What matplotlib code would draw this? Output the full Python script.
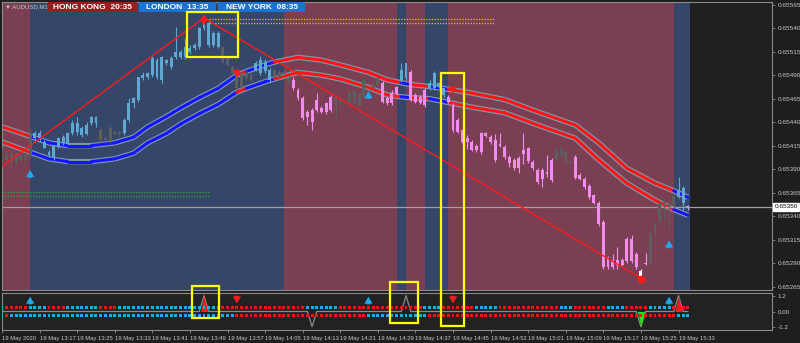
import numpy as np
import matplotlib.pyplot as plt
from matplotlib.patches import Rectangle
from matplotlib.collections import LineCollection
from matplotlib.transforms import blended_transform_factory

plt.rcParams['font.family'] = ['Liberation Sans', 'DejaVu Sans']

# AUDUSD M1 candles, prices in points (1e-5)
opens = [65408, 65400, 65405, 65398, 65405, 65400, 65405, 65423, 65428, 65419,
         65408, 65403, 65414, 65418, 65418, 65428, 65430, 65426, 65427, 65439,
         65446, 65432, 65421, 65421, 65430, 65427, 65428, 65442, 65460, 65464,
         65487, 65488, 65490, 65488, 65485, 65503, 65499, 65509, 65509, 65509,
         65515, 65519, 65520, 65540, 65546, 65535, 65535, 65520, 65508, 65499,
         65496, 65492, 65492, 65490, 65496, 65492, 65494, 65485, 65496, 65493,
         65493, 65487, 65485, 65474, 65466, 65451, 65453, 65464, 65455, 65460,
         65467, 65458, 65460, 65461, 65460, 65460, 65471, 65467, 65472, 65480,
         65480, 65482, 65466, 65471, 65477, 65485, 65487, 65493, 65469, 65467,
         65474, 65476, 65476, 65477, 65469, 65467, 65458, 65442, 65432, 65423,
         65419, 65415, 65428, 65428, 65424, 65421, 65417, 65414, 65403, 65400,
         65402, 65410, 65412, 65398, 65389, 65389, 65387, 65400, 65400, 65410,
         65408, 65398, 65403, 65384, 65380, 65372, 65362, 65354, 65334, 65296,
         65293, 65293, 65293, 65316, 65316, 65300, 65282, 65290, 65290, 65320,
         65335, 65352, 65350, 65353, 65360, 65354, 65351]
highs = [65413, 65410, 65410, 65408, 65409, 65408, 65434, 65431, 65432, 65421,
         65410, 65416, 65424, 65426, 65430, 65442, 65446, 65436, 65440, 65447,
         65447, 65434, 65426, 65436, 65432, 65431, 65444, 65466, 65467, 65488,
         65493, 65493, 65510, 65508, 65510, 65507, 65510, 65541, 65517, 65530,
         65522, 65524, 65541, 65552, 65549, 65537, 65537, 65521, 65510, 65501,
         65498, 65494, 65495, 65492, 65505, 65510, 65507, 65498, 65498, 65495,
         65495, 65489, 65488, 65476, 65468, 65453, 65455, 65471, 65457, 65462,
         65469, 65467, 65466, 65464, 65472, 65474, 65472, 65485, 65474, 65482,
         65487, 65484, 65468, 65474, 65479, 65503, 65503, 65495, 65471, 65469,
         65476, 65485, 65494, 65483, 65477, 65469, 65460, 65444, 65433, 65426,
         65421, 65417, 65430, 65430, 65426, 65427, 65428, 65416, 65405, 65402,
         65404, 65428, 65414, 65400, 65391, 65391, 65405, 65402, 65412, 65415,
         65410, 65400, 65405, 65386, 65382, 65374, 65364, 65356, 65336, 65298,
         65300, 65307, 65295, 65318, 65320, 65302, 65284, 65301, 65323, 65334,
         65356, 65359, 65356, 65362, 65382, 65372, 65352]
lows = [65394, 65398, 65392, 65397, 65398, 65398, 65402, 65419, 65419, 65412,
        65403, 65400, 65412, 65416, 65416, 65426, 65426, 65424, 65426, 65437,
        65435, 65418, 65418, 65418, 65426, 65425, 65426, 65440, 65455, 65462,
        65485, 65486, 65488, 65486, 65482, 65501, 65497, 65507, 65507, 65507,
        65513, 65517, 65518, 65538, 65520, 65520, 65519, 65503, 65500, 65490,
        65474, 65476, 65485, 65483, 65494, 65490, 65492, 65483, 65487, 65486,
        65490, 65480, 65474, 65464, 65442, 65437, 65432, 65451, 65450, 65449,
        65451, 65442, 65458, 65460, 65458, 65458, 65456, 65465, 65468, 65474,
        65478, 65460, 65458, 65458, 65469, 65483, 65485, 65463, 65460, 65459,
        65456, 65474, 65474, 65476, 65467, 65460, 65430, 65428, 65418, 65411,
        65409, 65408, 65406, 65424, 65417, 65398, 65414, 65401, 65392, 65389,
        65386, 65396, 65397, 65389, 65374, 65371, 65382, 65376, 65398, 65404,
        65396, 65395, 65380, 65378, 65369, 65358, 65353, 65330, 65284, 65284,
        65284, 65284, 65287, 65290, 65290, 65284, 65274, 65288, 65288, 65318,
        65333, 65337, 65327, 65349, 65359, 65347, 65347]
closes = [65400, 65405, 65398, 65405, 65400, 65405, 65426, 65428, 65423, 65413,
          65405, 65416, 65423, 65424, 65428, 65439, 65439, 65434, 65437, 65446,
          65439, 65421, 65423, 65434, 65427, 65430, 65442, 65460, 65466, 65488,
          65490, 65492, 65508, 65506, 65509, 65506, 65508, 65515, 65515, 65520,
          65519, 65522, 65540, 65547, 65522, 65522, 65520, 65504, 65501, 65492,
          65476, 65477, 65487, 65485, 65503, 65506, 65504, 65496, 65488, 65488,
          65491, 65482, 65476, 65466, 65444, 65446, 65440, 65453, 65451, 65451,
          65453, 65467, 65464, 65462, 65472, 65474, 65458, 65485, 65469, 65476,
          65487, 65461, 65460, 65460, 65470, 65496, 65503, 65464, 65461, 65460,
          65458, 65482, 65492, 65482, 65476, 65461, 65432, 65430, 65419, 65419,
          65410, 65410, 65408, 65425, 65419, 65400, 65415, 65403, 65397, 65391,
          65391, 65406, 65399, 65391, 65376, 65380, 65385, 65378, 65410, 65405,
          65398, 65396, 65381, 65380, 65371, 65360, 65354, 65332, 65286, 65286,
          65286, 65288, 65288, 65292, 65292, 65286, 65276, 65289, 65322, 65333,
          65354, 65355, 65353, 65361, 65368, 65370, 65350]
# candle colour per bar: b blue, p pink, g grey, w white, v lavender
candle_cols = ("ggggggg" "bbbbbbbbbbbbbb" "ggggg" "bbbbbbbbbbbbbbbbbbbbb"
               "ggggggg" "bbbb" "gggg" "ppppppppp" "gggggggggg" "pppp" "bb"
               "pppp" "bbbb" "ppppppppppppppppppppppp" "gggg" "pppppppppppppp"
               "w" "p" "gggggg" "bb" "v")

# envelope bands (points), read at these bars
band_bars = [0, 6, 10, 14, 19, 24, 28, 31, 35, 38, 42, 46, 50, 52, 56, 58, 63,
             68, 72, 78, 82, 85, 87, 91, 95, 100, 107, 114, 122, 127, 133, 139,
             143, 146]
band_upper = [65435, 65425, 65418, 65415, 65415, 65418, 65424, 65435, 65446,
              65455, 65466, 65476, 65490, 65494, 65501, 65504, 65509, 65506,
              65501, 65493, 65485, 65482, 65480, 65478, 65475, 65471, 65464,
              65451, 65437, 65418, 65391, 65375, 65367, 65360]
band_lower = [65419, 65408, 65401, 65398, 65398, 65401, 65407, 65418, 65428,
              65438, 65449, 65459, 65472, 65476, 65483, 65486, 65493, 65490,
              65486, 65477, 65469, 65467, 65466, 65465, 65461, 65456, 65450,
              65437, 65423, 65400, 65375, 65357, 65347, 65341]
band_blue = [(6, 50), (52, 58), (85, 87), (91, 95), (143, 146)]

trend_bars = [0, 43, 136]
trend_prices = [65393, 65551, 65274]

session_edges = [-0.5, 6, 60, 84, 86, 90, 95, 143, 146.5]
session_cols = ['#7a3f53', '#354669', '#7a3f53', '#354669', '#7a3f53',
                '#354669', '#7a3f53', '#354669']

gold_levels = [65550, 65546]
gold_span = (44, 105)
green_levels = [65366, 65361]
green_span = (0, 44)
cur_price = 65350

arrow_bars = [6, 43, 50, 78, 96, 142]
arrow_tips = [65389, 65543, 65488, 65473, 65470, 65314]
arrow_dirs = ['up', 'down', 'down', 'up', 'down', 'up']

# sub window
upper_row = ("c" "rrrrr" "cccc" "rrrr" "ccccccc" "rrrr"
             "cccccccccccccccccccccc" "rrrrrrrrrrrrrrrrrr" "ccccccc"
             "rrrrrrrrrrrrrrrrrr" "cccc" "rrrrrrr" "ccccc" "rrrrrrrrrrrrr"
             "ccc" "rrrrrrr" "cccc" "rrrrr" "ccccc" "rrrr")
lower_row = ("c" "r" "cccccccccccccccccccccccccccccccccccccccccccccccc"
             "rrrrrrrrrrrrrrrrrrrrrrrrrrrr" "ccccccccccccc"
             "rrrrrrrrrrrrrrrrrrrrrrrrrrrrrrrrrrrrrrrrrrrrrrrrrrrrr" "ccc")
spike_bars = [43, 66, 86, 136, 144]
spike_vals = [1.2, -1.15, 1.2, -1.15, 1.2]
spike_fill = ['#ff1a1a', None, None, '#19e619', '#ff1a1a']
sub_arrow_bars = [6, 50, 78, 96, 142]
sub_arrow_dirs = ['up', 'down', 'up', 'down', 'up']

label_bars = [0, 8, 16, 24, 32, 40, 48, 56, 64, 72, 80, 88, 96, 104, 112, 120,
              128, 136, 144]
time_labels = ['19 May 2020', '19 May 13:17', '19 May 13:25', '19 May 13:33',
               '19 May 13:41', '19 May 13:49', '19 May 13:57', '19 May 14:05',
               '19 May 14:13', '19 May 14:21', '19 May 14:29', '19 May 14:37',
               '19 May 14:45', '19 May 14:52', '19 May 15:01', '19 May 15:09',
               '19 May 15:17', '19 May 15:25', '19 May 15:33']
price_ticks = [65265, 65290, 65315, 65340, 65365, 65390, 65415, 65440, 65465,
               65490, 65515, 65540, 65565]

W, H = 800, 343
fig = plt.figure(figsize=(W / 100, H / 100), dpi=100, facecolor='#1e1e1e')
ax = fig.add_axes([2 / W, 1 - 290 / H, 770 / W, 288 / H], facecolor='#202020')
axs = fig.add_axes([2 / W, 1 - 330 / H, 770 / W, 37 / H], facecolor='#222222')
xlim = (0.0, 163.9)

# sessions
for i in range(len(session_cols)):
    ax.axvspan(session_edges[i], session_edges[i + 1], color=session_cols[i], lw=0, zorder=0)

# bands
cmap_band = lambda a, b: '#1414ff' if any(s <= a and b <= e for s, e in band_blue) else '#ff1414'
for vals in (band_upper, band_lower):
    y = np.array(vals) / 1e5
    ax.plot(band_bars, y, color='#7d98ae', lw=3.9, zorder=2, solid_capstyle='butt')
    segs = [[(band_bars[k], y[k]), (band_bars[k + 1], y[k + 1])] for k in range(len(band_bars) - 1)]
    cols = [cmap_band(band_bars[k], band_bars[k + 1]) for k in range(len(band_bars) - 1)]
    ax.add_collection(LineCollection(segs, colors=cols, lw=2.2, zorder=2.1, capstyle='round'))

# candles
colmap = {'b': '#5ea9d2', 'p': '#f28cf0', 'g': '#5e5e5e', 'w': '#ffffff', 'v': '#c9a3ec'}
x = np.arange(len(opens))
o = np.array(opens) / 1e5
c = np.array(closes) / 1e5
hi = np.array(highs) / 1e5
lo = np.array(lows) / 1e5
cc = [colmap[k] for k in candle_cols]
ax.vlines(x, lo, hi, colors=cc, lw=0.8, zorder=3)
ax.bar(x, np.maximum(np.abs(c - o), 1.2e-5), bottom=np.minimum(o, c), width=0.62,
       color=cc, lw=0, zorder=3)

# levels
for lv in gold_levels:
    ax.plot(gold_span, [lv / 1e5] * 2, color='#d9b21e', lw=1.0, ls=(0, (1, 1)), zorder=2.5)
for lv in green_levels:
    ax.plot(green_span, [lv / 1e5] * 2, color='#3a9a3a', lw=1.0, ls=(0, (1, 1)), zorder=2.5)
ax.axhline(cur_price / 1e5, color='#a0a0a0', lw=0.9, zorder=2.4)

# trend lines
ax.plot(trend_bars, np.array(trend_prices) / 1e5, color='#ff1a1a', lw=1.0, zorder=4)
ax.plot(trend_bars[-1], trend_prices[-1] / 1e5 - 1e-5, 'o', color='#ff1a1a', ms=4.5, zorder=5)


def arrow(a, bx, tip, d, big=False):
    col = '#1ea8ee' if d == 'up' else '#ff1a1a'
    ln = 7 if big else 5.5
    a.annotate('', xy=(bx, tip), xytext=(0, -ln if d == 'up' else ln), textcoords='offset points',
               arrowprops=dict(arrowstyle='simple,head_length=0.5,head_width=0.6,tail_width=0.25',
                               fc=col, ec=col, lw=0, shrinkA=0, shrinkB=0), zorder=6)


for bx, tp, d in zip(arrow_bars, arrow_tips, arrow_dirs):
    arrow(ax, bx, tp / 1e5, d, big=(bx == 43))

ax.set_xlim(*xlim)
ax.set_ylim(0.652614, 0.655679)
ax.set_xticks([])
ax.yaxis.tick_right()
ax.set_yticks(np.array(price_ticks) / 1e5)
ax.set_yticklabels(['%.5f' % (p / 1e5) for p in price_ticks])
ax.tick_params(axis='y', colors='#8a8a8a', labelcolor='#c8c8c8', labelsize=4.6, length=2.5, width=0.6, pad=1.5)
for sp in ax.spines.values():
    sp.set_color('#8a8a8a')
    sp.set_linewidth(0.8)
ax.text(1.003, cur_price / 1e5, '%.5f' % (cur_price / 1e5), transform=blended_transform_factory(ax.transAxes, ax.transData),
        ha='left', va='center', fontsize=4.6, color='black',
        bbox=dict(boxstyle='square,pad=0.2', fc='white', ec='white'), clip_on=False, zorder=7)

# sub window
n = len(upper_row)
dotcol = {'c': '#1ea8ee', 'r': '#ee1414'}
axs.scatter(np.arange(n), [0.32] * n, c=[dotcol[k] for k in upper_row], marker='s', s=4.5, lw=0, zorder=3)
axs.scatter(np.arange(n), [-0.27] * n, c=[dotcol[k] for k in lower_row], marker='s', s=4.5, lw=0, zorder=3)
sig = np.zeros(n)
sig[spike_bars] = spike_vals
axs.plot(np.arange(n), sig, color='#8a8a8a', lw=0.9, zorder=2)
for b, v, fc in zip(spike_bars, spike_vals, spike_fill):
    if fc:
        axs.fill_between([b - 0.75, b, b + 0.75], 0, [0, v, 0], color=fc, lw=0, zorder=2.5)
for bx, d in zip(sub_arrow_bars, sub_arrow_dirs):
    arrow(axs, bx, 1.12 if d == 'up' else 0.62, d)

axs.set_xlim(*xlim)
axs.set_ylim(-1.4, 1.4)
axs.yaxis.tick_right()
axs.set_yticks([1.2, 0, -1.2])
axs.set_yticklabels(['1.2', '0.00', '-1.2'])
axs.set_xticks(label_bars)
axs.set_xticklabels(time_labels, ha='left')
axs.tick_params(colors='#8a8a8a', labelcolor='#c8c8c8', labelsize=4.5, length=2.5, width=0.6, pad=1.5)
axs.tick_params(axis='x', labelsize=4.2)
for sp in axs.spines.values():
    sp.set_color('#8a8a8a')
    sp.set_linewidth(0.8)

# highlight boxes (bar span, top/bottom in pixels from top)
box_bars = [(39.4, 50.3), (93.4, 98.3), (40.4, 46.2), (82.6, 88.6)]
box_px = [(12, 57), (73, 326), (286, 318), (282, 323)]
tr = blended_transform_factory(ax.transData, fig.transFigure)
for (b0, b1), (t, bt) in zip(box_bars, box_px):
    fig.add_artist(Rectangle((b0, 1 - bt / H), b1 - b0, (bt - t) / H, transform=tr,
                             fill=False, ec='#ffff00', lw=1.6, zorder=10))

# session clocks
clocks = [('HONG KONG  20:35', 48, 137, '#9e1b1f'), ('LONDON  13:35', 139, 216, '#1a72d2'),
          ('NEW YORK  08:35', 218, 305, '#1a72d2')]
for txt, x0, x1, col in clocks:
    fig.add_artist(Rectangle((x0 / W, 1 - 12 / H), (x1 - x0) / W, 9.5 / H, transform=fig.transFigure,
                             fc=col, ec='none', zorder=9))
    fig.text((x0 + x1) / 2 / W, 1 - 7.5 / H, txt, ha='center', va='center', fontsize=6,
             fontweight='bold', color='white', zorder=10)
fig.text(5 / W, 1 - 7 / H, '▼ AUDUSD,M1', ha='left', va='center', fontsize=4.3, color='#c8c8c8', zorder=10)

fig.savefig('out.png', dpi=100, facecolor=fig.get_facecolor())
